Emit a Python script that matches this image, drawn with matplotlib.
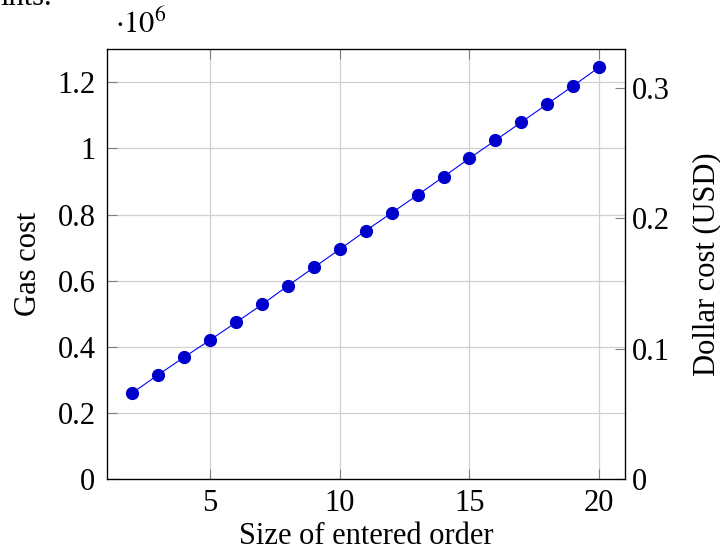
import matplotlib
matplotlib.use("Agg")
from matplotlib import pyplot as plt

plt.rcParams['font.family'] = ['Liberation Serif', 'DejaVu Serif']
plt.rcParams['mathtext.fontset'] = 'stix'

order_size = list(range(2, 21))
gas_cost = [0.261e6, 0.316e6, 0.369e6, 0.421e6, 0.474e6, 0.528e6, 0.585e6, 0.640e6,
            0.695e6, 0.751e6, 0.805e6, 0.859e6, 0.914e6, 0.970e6, 1.024e6, 1.079e6,
            1.134e6, 1.189e6, 1.245e6]
left_ticks = [0, 0.2e6, 0.4e6, 0.6e6, 0.8e6, 1.0e6, 1.2e6]
left_labels = ["0", "0.2", "0.4", "0.6", "0.8", "1", "1.2"]
right_ticks = [0, 0.1, 0.2, 0.3]
right_labels = ["0", "0.1", "0.2", "0.3"]
x_ticks = [5, 10, 15, 20]

fig = plt.figure(figsize=(7.2, 5.52), dpi=100)
ax = fig.add_axes([0.148, 0.132, 0.72, 0.779])

ax.plot(order_size, gas_cost, color="#0000ff", linewidth=0.8, marker="o",
        markersize=8.5, markerfacecolor="#0000cc", markeredgecolor="#0000cc", zorder=3)

ax.set_xlim(1, 21)
ax.set_ylim(0, 1.3e6)
ax.set_xticks(x_ticks)
ax.set_xticklabels([str(t) for t in x_ticks])
ax.set_yticks(left_ticks)
ax.set_yticklabels(left_labels)
ax.grid(color="#d0d0d0", linewidth=0.9)
ax.set_axisbelow(True)
ax.tick_params(axis="x", direction="in", top=True, length=7, width=0.8, color="#808080",
               labelsize=22, pad=7)
ax.tick_params(axis="y", direction="in", length=7, width=0.8, color="#808080",
               labelsize=22, pad=8)
for s in ax.spines.values():
    s.set_linewidth(0.9)

ax.set_xlabel("Size of entered order", fontsize=22, labelpad=3)
ax.set_ylabel("Gas cost", fontsize=22, labelpad=10)

ax2 = ax.twinx()
ax2.set_ylim(0, 0.3295)
ax2.set_yticks(right_ticks)
ax2.set_yticklabels(right_labels)
ax2.tick_params(axis="y", direction="in", length=7, width=0.8, color="#808080",
                labelsize=22, pad=5)
ax2.set_ylabel("Dollar cost (USD)", fontsize=22, labelpad=16)

fig.text(0.160, 0.955, r"$\cdot 10^{6}$", fontsize=22, ha="left", va="center")
fig.text(0.0, 1.005, "ints.", fontsize=22, ha="left", va="center")

plt.savefig("out.png", dpi=100)
